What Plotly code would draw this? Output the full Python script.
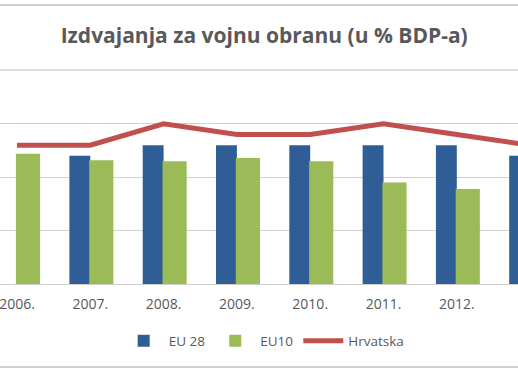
import plotly.graph_objects as go

years = ["2006.", "2007.", "2008.", "2009.", "2010.", "2011.", "2012.", "2013."]
eu28 = [None, 1.2, 1.3, 1.3, 1.3, 1.3, 1.3, 1.2]
eu10 = [1.22, 1.16, 1.15, 1.18, 1.15, 0.95, 0.89, 0.9]
hrvatska = [1.3, 1.3, 1.5, 1.4, 1.4, 1.5, 1.4, 1.3]

FONT = "Open Sans"
GRAY = "#595959"
LINE = "#d0d0d0"

fig = go.Figure()
fig.add_trace(go.Bar(x=years, y=eu28, name="EU 28", marker_color="#2e5e95",
                     offset=-0.285, width=0.285, marker_line_width=0))
fig.add_trace(go.Bar(x=years, y=eu10, name="EU10", marker_color="#9bbb59",
                     offset=-0.015, width=0.33, marker_line_width=0))
fig.add_trace(go.Scatter(x=years, y=hrvatska, name="Hrvatska", mode="lines",
                         line=dict(color="#c0504d", width=5)))

def py(p):
    return (284 - p) / 214

fig.update_layout(
    width=518, height=369,
    margin=dict(l=0, r=0, t=70, b=85),
    paper_bgcolor="white", plot_bgcolor="white",
    barmode="overlay",
    title=dict(text="<b>Izdvajanja za vojnu obranu (u % BDP-a)</b>",
               x=0.51, xanchor="center", y=1 - 36 / 369, yanchor="middle",
               font=dict(family=FONT, size=21, color=GRAY)),
    xaxis=dict(range=[-0.232, 6.835], showgrid=False, ticks="", showline=False,
               tickfont=dict(family=FONT, size=14, color=GRAY), zeroline=False,
               ticklabelstandoff=10),
    yaxis=dict(range=[0, 2.004], tickvals=[0.5, 1.0, 1.5, 2.0], showgrid=True,
               gridcolor=LINE, gridwidth=1.3, showticklabels=False, zeroline=True,
               zerolinecolor=LINE, zerolinewidth=1.3),
    legend=dict(orientation="h", x=0.51, xanchor="center", y=py(341), yanchor="middle",
                font=dict(family=FONT, size=13.5, color=GRAY), itemwidth=40,
                traceorder="normal"),
    showlegend=True,
    shapes=[
        dict(type="line", xref="paper", yref="paper", x0=0, x1=1, y0=py(70), y1=py(70),
             line=dict(color=LINE, width=1.3), layer="below"),
        dict(type="line", xref="paper", yref="paper", x0=0, x1=1, y0=py(5), y1=py(5),
             line=dict(color=LINE, width=2)),
        dict(type="line", xref="paper", yref="paper", x0=0, x1=1, y0=py(367), y1=py(367),
             line=dict(color=LINE, width=2)),
    ],
)

fig.write_html("out.html", config={"displayModeBar": False},
               post_script="document.body.style.margin='0';")
